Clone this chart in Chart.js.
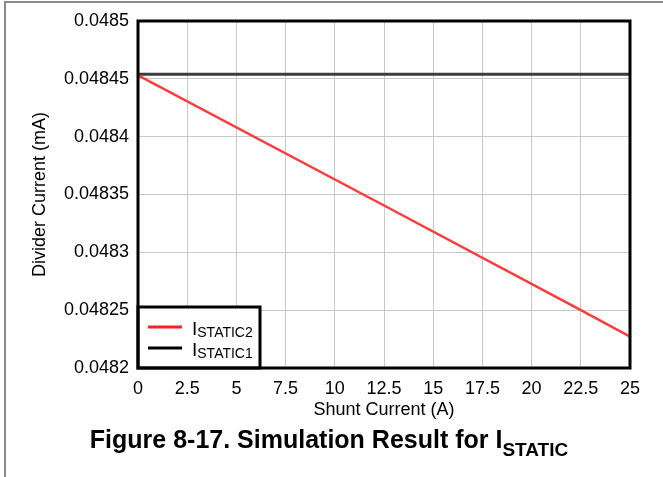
<!DOCTYPE html>
<html><head><meta charset="utf-8">
<script src="https://cdn.jsdelivr.net/npm/chart.js@4/dist/chart.umd.min.js"></script>
<style>html,body{margin:0;padding:0;background:#fff;overflow:hidden}</style>
</head><body>
<canvas id="c" width="663" height="477"></canvas>
<script>
// ---- data ----
const xTickValues = [0, 2.5, 5, 7.5, 10, 12.5, 15, 17.5, 20, 22.5, 25];
const xTickLabels = ['0', '2.5', '5', '7.5', '10', '12.5', '15', '17.5', '20', '22.5', '25'];
const yTickValues = [0.0482, 0.04825, 0.0483, 0.04835, 0.0484, 0.04845, 0.0485];
const yTickLabels = ['0.0482', '0.04825', '0.0483', '0.04835', '0.0484', '0.04845', '0.0485'];
const shuntCurrent = [0, 12.5, 22.5, 25];
const iStatic2 = [0.048453, 0.0483405, 0.04825, 0.048227];
const iStatic1 = [0.048454, 0.048454, 0.048454, 0.048454];
const seriesMain = ['I', 'I'];
const seriesSub = ['STATIC2', 'STATIC1'];
const xTitle = 'Shunt Current (A)';
const yTitle = 'Divider Current (mA)';
const figTitleMain = 'Figure 8-17. Simulation Result for I';
const figTitleSub = 'STATIC';

const FONT = '"Liberation Sans", Arial, sans-serif';
const colors = ['#ff3b3b', '#3c3c3c'];

const pts = (ys) => shuntCurrent.map((x, i) => ({x: x, y: ys[i]}));

const decor = {
  id: 'decor',
  beforeDraw(chart) {
    const ctx = chart.ctx;
    ctx.save();
    ctx.strokeStyle = '#8a8a8a';
    ctx.lineWidth = 2;
    ctx.beginPath();
    ctx.moveTo(5, 477);
    ctx.lineTo(5, 2);
    ctx.lineTo(663, 2);
    ctx.stroke();
    ctx.restore();
  },
  afterDatasetsDraw(chart) {
    const ctx = chart.ctx;
    const a = chart.chartArea;
    ctx.save();
    // legend box
    const lx = a.left, lw = 122, lh = 61, ly = a.bottom - lh;
    ctx.fillStyle = '#fff';
    ctx.fillRect(lx, ly, lw, lh);
    ctx.strokeStyle = '#000';
    ctx.lineWidth = 3;
    ctx.strokeRect(lx, ly, lw, lh);
    const rows = [ly + 20, ly + 41];
    for (let i = 0; i < 2; i++) {
      ctx.strokeStyle = i === 0 ? '#ff2020' : '#000';
      ctx.lineWidth = 3;
      ctx.beginPath();
      ctx.moveTo(lx + 10, rows[i]);
      ctx.lineTo(lx + 44, rows[i]);
      ctx.stroke();
      ctx.fillStyle = '#000';
      ctx.textBaseline = 'alphabetic';
      ctx.textAlign = 'left';
      ctx.font = '19px ' + FONT;
      const tx = lx + 54;
      ctx.fillText(seriesMain[i], tx, rows[i] + 8);
      const w = ctx.measureText(seriesMain[i]).width;
      ctx.font = '14px ' + FONT;
      ctx.fillText(seriesSub[i], tx + w, rows[i] + 10);
    }
    // plot frame
    ctx.strokeStyle = '#000';
    ctx.lineWidth = 3;
    ctx.strokeRect(a.left, a.top, a.right - a.left, a.bottom - a.top);
    // figure title
    ctx.fillStyle = '#000';
    ctx.font = 'bold 25px ' + FONT;
    const w1 = ctx.measureText(figTitleMain).width;
    ctx.font = 'bold 19px ' + FONT;
    const w2 = ctx.measureText(figTitleSub).width;
    const startX = 329 - (w1 + w2) / 2;
    ctx.font = 'bold 25px ' + FONT;
    ctx.fillText(figTitleMain, startX, 448);
    ctx.font = 'bold 19px ' + FONT;
    ctx.fillText(figTitleSub, startX + w1, 456);
    ctx.restore();
  }
};

new Chart(document.getElementById('c'), {
  type: 'scatter',
  data: {
    datasets: [
      {label: seriesMain[0] + seriesSub[0], data: pts(iStatic2), showLine: true, borderColor: colors[0], borderWidth: 2.5, pointRadius: 0, fill: false, tension: 0},
      {label: seriesMain[1] + seriesSub[1], data: pts(iStatic1), showLine: true, borderColor: colors[1], borderWidth: 3, pointRadius: 0, fill: false, tension: 0}
    ]
  },
  options: {
    responsive: false,
    animation: false,
    devicePixelRatio: 1,
    layout: {padding: {left: 0, right: 33, top: 21, bottom: 47}},
    plugins: {legend: {display: false}, tooltip: {enabled: false}, title: {display: false}},
    scales: {
      x: {
        type: 'linear', min: 0, max: 25,
        afterBuildTicks: (s) => { s.ticks = xTickValues.map(v => ({value: v})); },
        afterFit: (s) => { s.height = 62; },
        ticks: {callback: (v, i) => xTickLabels[i], color: '#000', font: {family: FONT, size: 18}, padding: 10, maxRotation: 0, autoSkip: false},
        grid: {color: '#c8c8c8', lineWidth: 1, drawTicks: false},
        border: {display: false},
        title: {display: true, text: xTitle, color: '#000', font: {family: FONT, size: 18}, padding: {top: 0, bottom: 9}}
      },
      y: {
        type: 'linear', min: 0.0482, max: 0.0485,
        afterBuildTicks: (s) => { s.ticks = yTickValues.map(v => ({value: v})); },
        afterFit: (s) => { s.width = 138; },
        ticks: {callback: (v, i) => yTickLabels[i], color: '#000', font: {family: FONT, size: 18}, padding: 9, autoSkip: false},
        grid: {color: '#c8c8c8', lineWidth: 1, drawTicks: false},
        border: {display: false},
        title: {display: true, text: yTitle, color: '#000', font: {family: FONT, size: 18}, padding: {top: 29, bottom: 0}}
      }
    }
  },
  plugins: [decor]
});
</script>
</body></html>
